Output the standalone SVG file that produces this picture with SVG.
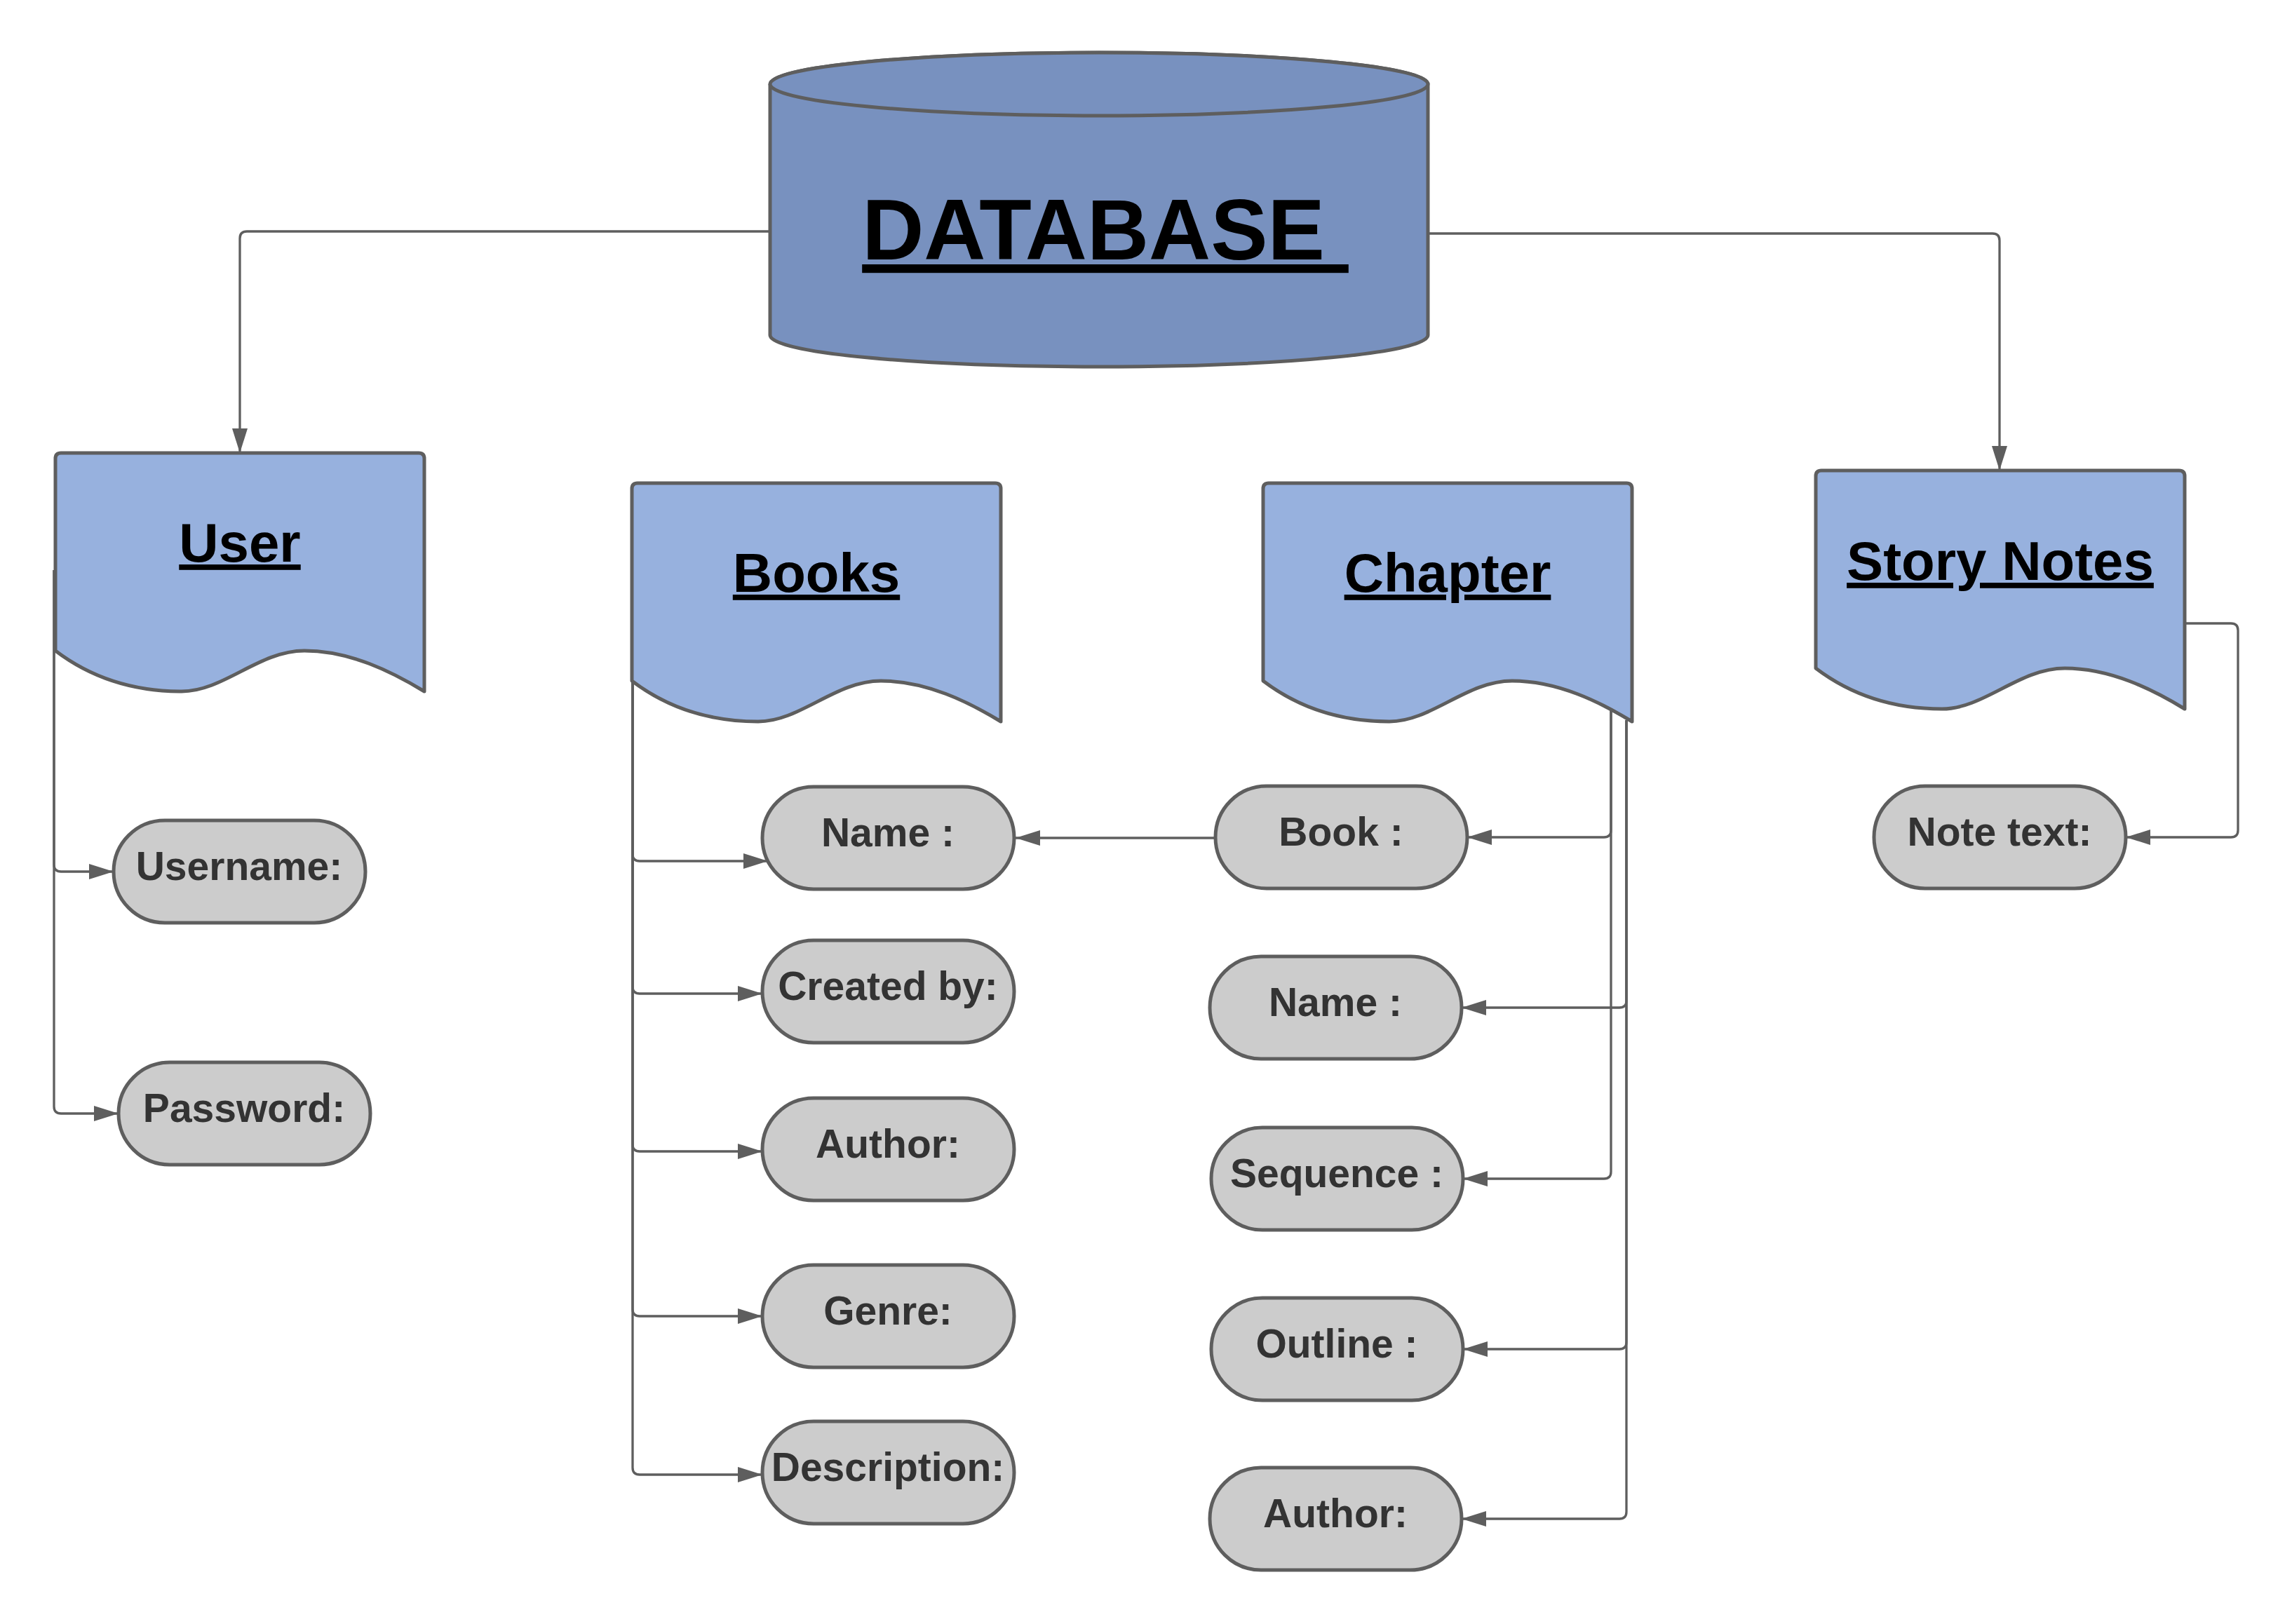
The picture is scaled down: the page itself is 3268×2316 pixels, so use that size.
<svg xmlns="http://www.w3.org/2000/svg" width="3268" height="2316" viewBox="0 0 3268 2316">
<defs>
<style>
.doc{fill:#97b1de;stroke:#5e5e5e;stroke-width:5;stroke-linejoin:round}
.cyl{fill:#7891bf;stroke:#5e5e5e;stroke-width:5}
.pill{fill:#cccccc;stroke:#5e5e5e;stroke-width:5}
.hdr{font-family:"Liberation Sans",Arial,sans-serif;font-weight:bold;font-size:78px;fill:#000;text-anchor:middle;text-decoration:underline}
.db{font-family:"Liberation Sans",Arial,sans-serif;font-weight:bold;font-size:122px;fill:#000;text-anchor:middle;text-decoration:underline;white-space:pre}
.lbl{font-family:"Liberation Sans",Arial,sans-serif;font-weight:bold;font-size:57px;fill:#333333;text-anchor:middle}
.con{fill:none;stroke:#5e5e5e;stroke-width:3.3;marker-end:url(#arr)}
</style>
<marker id="arr" markerUnits="userSpaceOnUse" markerWidth="36" markerHeight="24" refX="35" refY="11" orient="auto">
<path d="M0,0 L35,11 L0,22 Z" fill="#5e5e5e"/>
</marker>
</defs>
<rect width="3268" height="2316" fill="#ffffff"/>

<g id="connectors">
<path class="con" d="M1098,330 L352,330 Q342,330 342,340 L342,646"/>
<path class="con" d="M2036,333 L2841,333 Q2851,333 2851,343 L2851,671"/>
<path class="con" d="M77,813 L77,1233 Q77,1243 87,1243 L162,1243"/>
<path class="con" d="M77,813 L77,1578 Q77,1588 87,1588 L169,1588"/>
<path class="con" d="M902,971 L902,1218 Q902,1228 912,1228 L1095,1228"/>
<path class="con" d="M902,971 L902,1407 Q902,1417 912,1417 L1087,1417"/>
<path class="con" d="M902,971 L902,1632 Q902,1642 912,1642 L1087,1642"/>
<path class="con" d="M902,971 L902,1867 Q902,1877 912,1877 L1087,1877"/>
<path class="con" d="M902,971 L902,2093 Q902,2103 912,2103 L1087,2103"/>
<path class="con" d="M1733,1195 L1448,1195"/>
<path class="con" d="M2297,1012 L2297,1184 Q2297,1194 2287,1194 L2092,1194"/>
<path class="con" d="M2297,1012 L2297,1671 Q2297,1681 2287,1681 L2086,1681"/>
<path class="con" d="M2319,1027 L2319,1427 Q2319,1437 2309,1437 L2084,1437"/>
<path class="con" d="M2319,1027 L2319,1914 Q2319,1924 2309,1924 L2086,1924"/>
<path class="con" d="M2319,1027 L2319,2156 Q2319,2166 2309,2166 L2084,2166"/>
<path class="con" d="M3117,889 L3181,889 Q3191,889 3191,899 L3191,1184 Q3191,1194 3181,1194 L3031,1194"/>
</g>

<g id="database">
<path class="cyl" d="M1098,120 L1098,478 A469,45 0 0 0 2036,478 L2036,120 A469,45 0 0 0 1098,120 Z"/>
<ellipse class="cyl" cx="1567" cy="120" rx="469" ry="45"/>
<text class="db" x="1576" y="370" xml:space="preserve">DATABASE </text>
</g>

<g id="user">
<path class="doc" d="M79,928 L79,654 Q79,646 87,646 L597,646 Q605,646 605,654 L605,986 C559,958 499,928 434,928 C369,928 319,986 259,986 C189,986 129,966 79,928 Z"/>
<text class="hdr" x="342" y="801">User</text>
</g>

<g id="books">
<path class="doc" d="M901,971 L901,697 Q901,689 909,689 L1419,689 Q1427,689 1427,697 L1427,1029 C1381,1001 1321,971 1256,971 C1191,971 1141,1029 1081,1029 C1011,1029 951,1009 901,971 Z"/>
<text class="hdr" x="1164" y="844">Books</text>
</g>

<g id="chapter">
<path class="doc" d="M1801,971 L1801,697 Q1801,689 1809,689 L2319,689 Q2327,689 2327,697 L2327,1029 C2281,1001 2221,971 2156,971 C2091,971 2041,1029 1981,1029 C1911,1029 1851,1009 1801,971 Z"/>
<text class="hdr" x="2064" y="844">Chapter</text>
</g>

<g id="story-notes">
<path class="doc" d="M2589,953 L2589,679 Q2589,671 2597,671 L3107,671 Q3115,671 3115,679 L3115,1011 C3069,983 3009,953 2944,953 C2879,953 2829,1011 2769,1011 C2699,1011 2639,991 2589,953 Z"/>
<text class="hdr" x="2852" y="827">Story Notes</text>
</g>

<g id="username"><rect class="pill" x="162" y="1170" width="359" height="146" rx="73"/><text class="lbl" x="341" y="1255">Username:</text></g>
<g id="password"><rect class="pill" x="169" y="1515" width="359" height="146" rx="73"/><text class="lbl" x="348" y="1600">Password:</text></g>

<g id="books-name"><rect class="pill" x="1087" y="1122" width="359" height="146" rx="73"/><text class="lbl" x="1266" y="1207">Name :</text></g>
<g id="books-created"><rect class="pill" x="1087" y="1341" width="359" height="146" rx="73"/><text class="lbl" x="1266" y="1426">Created by:</text></g>
<g id="books-author"><rect class="pill" x="1087" y="1566" width="359" height="146" rx="73"/><text class="lbl" x="1266" y="1651">Author:</text></g>
<g id="books-genre"><rect class="pill" x="1087" y="1804" width="359" height="146" rx="73"/><text class="lbl" x="1266" y="1889">Genre:</text></g>
<g id="books-description"><rect class="pill" x="1087" y="2027" width="359" height="146" rx="73"/><text class="lbl" x="1266" y="2112">Description:</text></g>

<g id="chapter-book"><rect class="pill" x="1733" y="1121" width="359" height="146" rx="73"/><text class="lbl" x="1912" y="1206">Book :</text></g>
<g id="chapter-name"><rect class="pill" x="1725" y="1364" width="359" height="146" rx="73"/><text class="lbl" x="1904" y="1449">Name :</text></g>
<g id="chapter-sequence"><rect class="pill" x="1727" y="1608" width="359" height="146" rx="73"/><text class="lbl" x="1906" y="1693">Sequence :</text></g>
<g id="chapter-outline"><rect class="pill" x="1727" y="1851" width="359" height="146" rx="73"/><text class="lbl" x="1906" y="1936">Outline :</text></g>
<g id="chapter-author"><rect class="pill" x="1725" y="2093" width="359" height="146" rx="73"/><text class="lbl" x="1904" y="2178">Author:</text></g>

<g id="note-text"><rect class="pill" x="2672" y="1121" width="359" height="146" rx="73"/><text class="lbl" x="2851" y="1206">Note text:</text></g>
</svg>
